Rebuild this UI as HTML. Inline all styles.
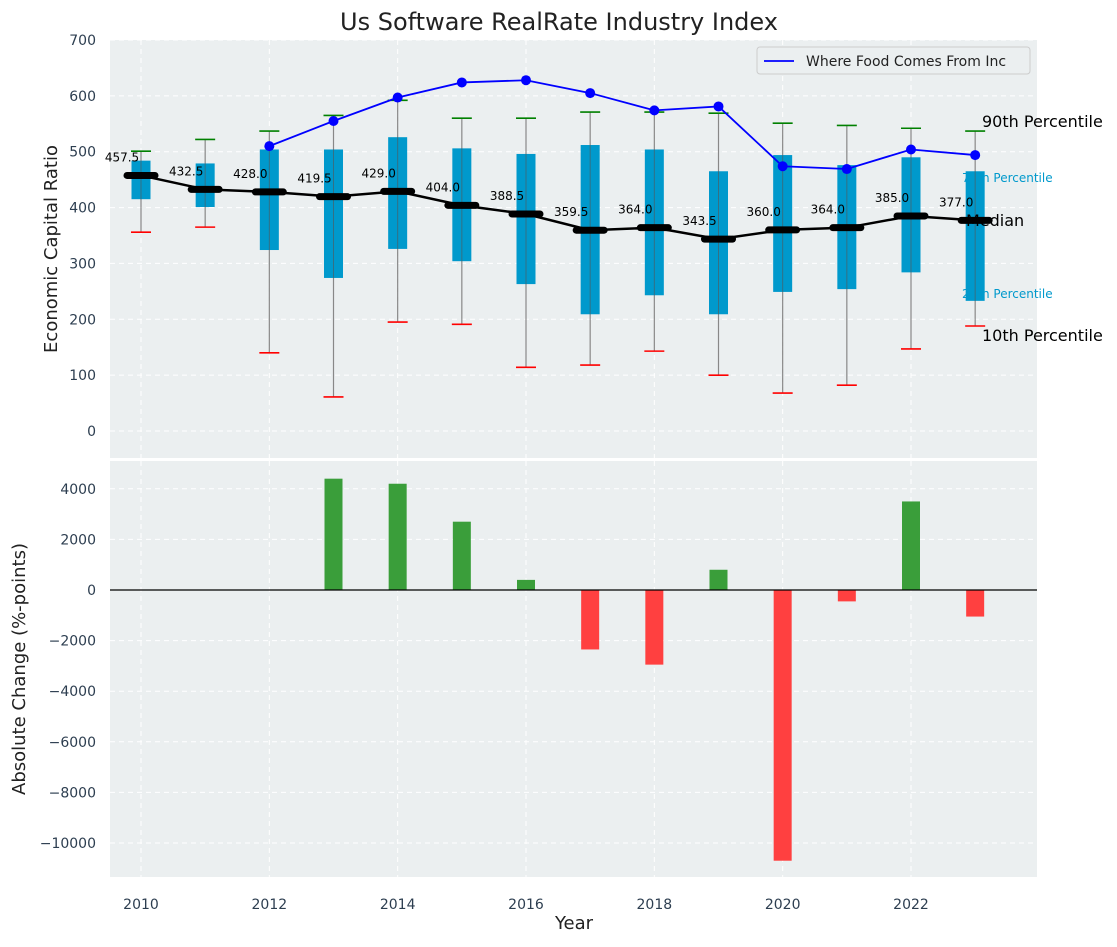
<!DOCTYPE html>
<html><head><meta charset="utf-8"><style>
body{margin:0;background:#fff;font-family:"Liberation Sans","DejaVu Sans",sans-serif}
svg text{font-family:"DejaVu Sans","Liberation Sans",sans-serif}
</style></head><body>
<svg id="c" width="1117" height="942" xmlns="http://www.w3.org/2000/svg"></svg>
<script>
const years=[2010,2011,2012,2013,2014,2015,2016,2017,2018,2019,2020,2021,2022,2023];
const medians=[457.5,432.5,428.0,419.5,429.0,404.0,388.5,359.5,364.0,343.5,360.0,364.0,385.0,377.0];
const q1=[415,401,324,274,326,304,263,209,243,209,249,254,284,233];
const q3=[484,479,504,504,526,506,496,512,504,465,494,476,490,465];
const p90=[501,522,537,565,592,560,560,571,571,569,551,547,542,537];
const p10=[356,365,140,61,195,191,114,118,143,100,68,82,147,188];
const compYears=[2012,2013,2014,2015,2016,2017,2018,2019,2020,2021,2022,2023];
const compVals=[510,555,597,624,628,605,574,581,474,469,504,494];
const chgYears=[2013,2014,2015,2016,2017,2018,2019,2020,2021,2022,2023];
const chgVals=[4400,4200,2700,400,-2350,-2950,800,-10700,-450,3500,-1050];
const topTicks=[0,100,200,300,400,500,600,700];
const botTicks=[-10000,-8000,-6000,-4000,-2000,0,2000,4000];
const xTicks=[2010,2012,2014,2016,2018,2020,2022];

const NS="http://www.w3.org/2000/svg";const svg=document.getElementById('c');
function el(t,a,p){const e=document.createElementNS(NS,t);for(const k in a)e.setAttribute(k,a[k]);(p||svg).appendChild(e);return e;}
const L=110,R=1037;
const x=v=>141+(v-2010)*(911-141)/12;
const yT=v=>431-v*(431-40)/700;
const yB=v=>590-v*(843-590)/10000;
let bg=el('rect',{x:L,y:40,width:R-L,height:418,fill:'#ebeff0'});

let bg2=el('rect',{x:L,y:461,width:R-L,height:416,fill:'#ebeff0'});

xTicks.forEach(t=>{[[40,458],[461,877]].forEach(r=>{el('line',{x1:x(t),x2:x(t),y1:r[0],y2:r[1],stroke:'#fff','stroke-dasharray':'5,4','stroke-width':1});});
 const tx=el('text',{x:x(t),y:909,'text-anchor':'middle','font-size':14,fill:'#2d3e50'});tx.textContent=t;
 });
topTicks.forEach(t=>{el('line',{x1:L,x2:R,y1:yT(t),y2:yT(t),stroke:'#fff','stroke-dasharray':'5,4'});
 const tx=el('text',{x:96,y:yT(t)+5,'text-anchor':'end','font-size':14,fill:'#2d3e50'});tx.textContent=t;
 });
botTicks.forEach(t=>{el('line',{x1:L,x2:R,y1:yB(t),y2:yB(t),stroke:'#fff','stroke-dasharray':'5,4'});
 const tx=el('text',{x:96,y:yB(t)+5,'text-anchor':'end','font-size':14,fill:'#2d3e50'});tx.textContent=String(t).replace('-','\u2212');
 });
function txt(s,a,name){const t=el('text',a);t.textContent=s;return t;}
txt('75th Percentile',{x:962,y:182,'font-size':12,fill:'#0099cc'},'p75-label');
txt('25th Percentile',{x:962,y:298,'font-size':12,fill:'#0099cc'},'p25-label');
const bw=19;
years.forEach((yr,i)=>{const cx=x(yr);
 let w=el('line',{x1:cx,x2:cx,y1:yT(p90[i]),y2:yT(p10[i]),stroke:'#888','stroke-width':1.2});
 
 let b=el('rect',{x:cx-bw/2,y:yT(q3[i]),width:bw,height:yT(q1[i])-yT(q3[i]),fill:'#0099cc'});
 
 el('line',{x1:cx,x2:cx,y1:yT(q3[i]),y2:yT(q1[i]),stroke:'#555','stroke-width':1,opacity:0.6});
 let g=el('line',{x1:cx-10,x2:cx+10,y1:yT(p90[i]),y2:yT(p90[i]),stroke:'green','stroke-width':1.6});
 
 let r=el('line',{x1:cx-10,x2:cx+10,y1:yT(p10[i]),y2:yT(p10[i]),stroke:'red','stroke-width':1.6});
 
});
let pl=el('polyline',{points:compYears.map((yr,i)=>x(yr)+','+yT(compVals[i])).join(' '),fill:'none',stroke:'#0000ff','stroke-width':1.8});

compYears.forEach((yr,i)=>{const c=el('circle',{cx:x(yr),cy:yT(compVals[i]),r:5,fill:'#0000ff'});
 });
let ml=el('polyline',{points:years.map((yr,i)=>x(yr)+','+yT(medians[i])).join(' '),fill:'none',stroke:'#000','stroke-width':2.5});

years.forEach((yr,i)=>{const cx=x(yr),cy=yT(medians[i]);
 const m=el('line',{x1:cx-14,x2:cx+14,y1:cy,y2:cy,stroke:'#000','stroke-width':7,'stroke-linecap':'round'});
 
 const t=el('text',{x:cx-19,y:cy-14,'text-anchor':'middle','font-size':12,fill:'#000'});t.textContent=medians[i].toFixed(1);
 });
txt('90th Percentile',{x:982,y:127,'font-size':16,fill:'#000'},'p90-label');
txt('Median',{x:966,y:226,'font-size':16,fill:'#000'},'median-label');
txt('10th Percentile',{x:982,y:341,'font-size':16,fill:'#000'},'p10-label');
chgYears.forEach((yr,i)=>{const v=chgVals[i];const y0=yB(0),y1=yB(v);
 const b=el('rect',{x:x(yr)-9,y:Math.min(y0,y1),width:18,height:Math.abs(y1-y0),fill:v>=0?'#3a9e3a':'#ff4040'});
 });
el('line',{x1:L,x2:R,y1:yB(0),y2:yB(0),stroke:'#000','stroke-width':1.2});
let lg=el('g',{});
el('rect',{x:757,y:47,width:273,height:27,rx:3,fill:'#ebeff0',stroke:'#ccc'},lg);
el('line',{x1:764,x2:794,y1:61,y2:61,stroke:'#0000ff','stroke-width':1.8},lg);
const lt=el('text',{x:806,y:66,'font-size':14,fill:'#222'},lg);lt.textContent='Where Food Comes From Inc';
txt('Us Software RealRate Industry Index',{x:559,y:30,'text-anchor':'middle','font-size':24,fill:'#222'},'chart-title');
txt('Year',{x:574,y:929,'text-anchor':'middle','font-size':18,fill:'#222'},'x-axis-title');
txt('Economic Capital Ratio',{x:0,y:0,transform:'translate(57,249) rotate(-90)','text-anchor':'middle','font-size':18,fill:'#222'},'top-y-axis-title');
txt('Absolute Change (%-points)',{x:0,y:0,transform:'translate(25,669) rotate(-90)','text-anchor':'middle','font-size':18,fill:'#222'},'bottom-y-axis-title');
</script>
</body></html>
